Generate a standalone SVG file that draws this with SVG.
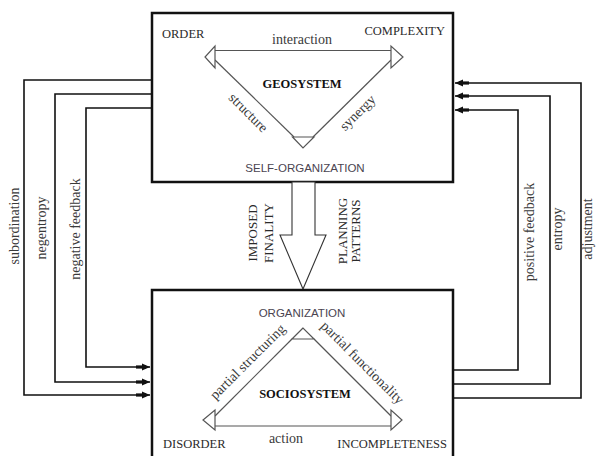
<svg xmlns="http://www.w3.org/2000/svg" width="596" height="456" viewBox="0 0 596 456">
<style>
.box{fill:#fff;stroke:#111;stroke-width:2.5}
.conn{fill:none;stroke:#111;stroke-width:1.6}
.tri{fill:#fff;stroke:#555;stroke-width:1.2}
.ln{fill:none;stroke:#555;stroke-width:1.2}
.serif{font-family:"Liberation Serif","Times New Roman",serif;fill:#2a2a2a}
.caps{font-size:12.5px}
.lab{font-size:14px;fill:#3a3a3a}
.bold{font-weight:bold;font-size:12.5px;fill:#111}
.sans{font-family:"Liberation Sans",Arial,sans-serif;font-size:11.5px;fill:#4a4450}
.vcap{font-size:13px}
</style>
<defs>
<marker id="ah" markerUnits="userSpaceOnUse" markerWidth="20" markerHeight="10" viewBox="-12 -5 20 10" refX="0" refY="0" orient="auto" overflow="visible">
<rect x="-14" y="-1.6" width="10" height="3.2" fill="#111"/>
<path d="M-8,-3.5 L0,0 L-8,3.5 z" fill="#111"/>
</marker>
</defs>

<g id="connectors">
<path class="conn" d="M152,80 H24 V395 H150" marker-end="url(#ah)"/>
<path class="conn" d="M152,94 H55 V382 H150" marker-end="url(#ah)"/>
<path class="conn" d="M152,108 H86 V367 H150" marker-end="url(#ah)"/>
<path class="conn" d="M453,370 H518 V110 H455" marker-end="url(#ah)"/>
<path class="conn" d="M453,384 H550 V96 H455" marker-end="url(#ah)"/>
<path class="conn" d="M453,398 H581 V83 H455" marker-end="url(#ah)"/>
<text class="serif lab" transform="translate(18.5,226) rotate(-90)" text-anchor="middle">subordination</text>
<text class="serif lab" transform="translate(46,228) rotate(-90)" text-anchor="middle">negentropy</text>
<text class="serif lab" transform="translate(79.5,229) rotate(-90)" text-anchor="middle">negative feedback</text>
<text class="serif lab" transform="translate(533.5,232) rotate(-90)" text-anchor="middle">positive feedback</text>
<text class="serif lab" transform="translate(562,229) rotate(-90)" text-anchor="middle">entropy</text>
<text class="serif lab" transform="translate(592,229) rotate(-90)" text-anchor="middle">adjustment</text>
</g>

<g id="geosystem">
<rect class="box" x="152" y="13" width="301" height="169"/>
<line class="ln" x1="215" y1="50.5" x2="391" y2="50.5"/>
<line class="ln" x1="215" y1="60" x2="294" y2="137"/>
<line class="ln" x1="391" y1="60" x2="313" y2="137"/>
<polygon class="tri" points="215,46 215,68 205,57"/>
<polygon class="tri" points="391,46 391,68 403,57"/>
<polygon class="tri" points="292.5,137 314,137 303,148"/>
<text class="serif caps" x="162" y="38">ORDER</text>
<text class="serif caps" x="445" y="35" text-anchor="end">COMPLEXITY</text>
<text class="serif lab" x="302" y="44" text-anchor="middle">interaction</text>
<text class="serif bold" x="302" y="87.5" text-anchor="middle">GEOSYSTEM</text>
<text class="serif lab" transform="translate(248,113) rotate(45)" text-anchor="middle" dy="4">structure</text>
<text class="serif lab" transform="translate(358,113) rotate(-45)" text-anchor="middle" dy="4">synergy</text>
<text class="sans" x="305" y="172" text-anchor="middle">SELF-ORGANIZATION</text>
</g>

<g id="transfer-arrow">
<polygon points="292,182 292,235 280,235 303,289 326,235 315,235 315,182" fill="#fff" stroke="#333" stroke-width="1.1"/>
<text class="serif vcap" transform="translate(256.5,233) rotate(-90)" text-anchor="middle">IMPOSED</text>
<text class="serif vcap" transform="translate(272.5,233) rotate(-90)" text-anchor="middle">FINALITY</text>
<text class="serif vcap" transform="translate(346.5,231) rotate(-90)" text-anchor="middle">PLANNING</text>
<text class="serif vcap" transform="translate(359.5,231) rotate(-90)" text-anchor="middle">PATTERNS</text>
</g>

<g id="sociosystem">
<rect class="box" x="152" y="290" width="301" height="180"/>
<line class="ln" x1="215" y1="426" x2="391" y2="426"/>
<line class="ln" x1="292" y1="339" x2="215" y2="416"/>
<line class="ln" x1="314" y1="339" x2="391" y2="416"/>
<polygon class="tri" points="303,328 292,339 314,339"/>
<polygon class="tri" points="215,410 215,430 203,420"/>
<polygon class="tri" points="391,410 391,430 402,420"/>
<text class="sans" x="302" y="317" text-anchor="middle">ORGANIZATION</text>
<text class="serif lab" transform="translate(248,362) rotate(-45)" text-anchor="middle" dy="4">partial structuring</text>
<text class="serif lab" transform="translate(362,363) rotate(45)" text-anchor="middle" dy="4">partial functionality</text>
<text class="serif bold" x="305" y="398" text-anchor="middle">SOCIOSYSTEM</text>
<text class="serif caps" x="163" y="448">DISORDER</text>
<text class="serif lab" x="286" y="443" text-anchor="middle">action</text>
<text class="serif caps" x="447" y="448" text-anchor="end">INCOMPLETENESS</text>
</g>
</svg>
